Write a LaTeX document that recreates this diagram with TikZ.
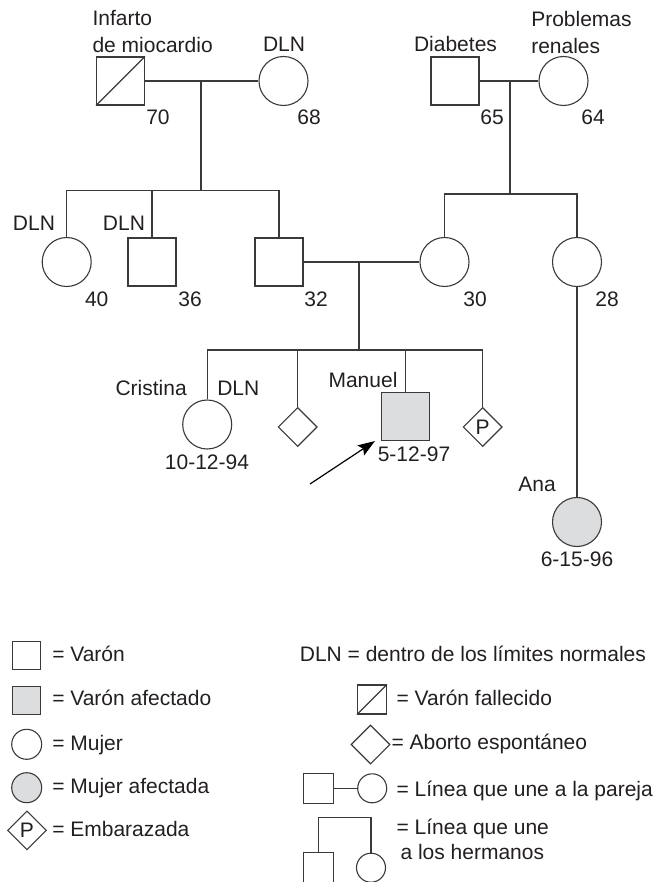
\documentclass[tikz,border=0pt]{standalone}
\usepackage{fontspec}
\setmainfont{Liberation Sans}
\usetikzlibrary{arrows.meta, positioning, shapes.geometric}
\definecolor{cline}{HTML}{3A3A3A}
\definecolor{cfill}{HTML}{DCDDDF}
\definecolor{ctext}{HTML}{231F20}
\tikzset{
  every picture/.style={font=\fontsize{21}{27}\selectfont, line width=1.1pt, color=cline, text=ctext},
  male/.style={draw, minimum size=#1, inner sep=0pt},
  male/.default=48pt,
  female/.style={draw, circle, minimum size=#1, inner sep=0pt},
  female/.default=49pt,
  lost/.style={draw, diamond, minimum size=#1, inner sep=0pt},
  lost/.default=39pt,
  affected/.style={fill=cfill},
  lbl/.style={inner sep=0pt, anchor=base},
  key/.style={inner sep=0pt, anchor=base west},
  arrow/.style={-{Stealth[length=17pt, width=12pt, inset=3pt]}, draw=black, line width=1.2pt},
}

\begin{document}
\begin{tikzpicture}[x=1pt, y=-1pt]
  \useasboundingbox (0,0) rectangle (671,882);
  % first generation
  \node[male] (gpaA) at (120.5,81) {};
  \draw (gpaA.south west) -- (gpaA.north east);
  \node[female] (gmaA) at (283.5,81) {};
  \node[male] (gpaB) at (455,81) {};
  \node[female] (gmaB) at (563.5,81) {};
  % second generation
  \node[female] (auntA) at (66.7,262) {};
  \node[male] (uncle) at (152,262) {};
  \node[male] (dad) at (279,262) {};
  \node[female] (mom) at (444.5,262) {};
  \node[female] (auntB) at (577,262) {};
  % third generation
  \node[female] (cristina) at (207.2,424.5) {};
  \node[lost] (abort) at (297.7,427) {};
  \node[male, affected] (manuel) at (405.5,416.5) {};
  \node[lost] (preg) at (482.7,427) {P};
  \node[female, affected] (ana) at (577,522) {};

  % couples and sibships
  \coordinate (dropA) at (201,81);
  \coordinate (barA) at (201,190.5);
  \draw (gpaA) -- (gmaA);
  \draw (dropA) -- (barA);
  \draw (auntA.north) |- (barA) -| (dad.north);
  \draw (uncle.north) -- (uncle.north |- barA);
  \coordinate (dropB) at (510,81);
  \coordinate (barB) at (510,194);
  \draw (gpaB) -- (gmaB);
  \draw (dropB) -- (barB);
  \draw (mom.north) |- (barB) -| (auntB.north);
  \coordinate (dropC) at (359,262);
  \coordinate (barC) at (359,350);
  \draw (dad) -- (mom);
  \draw (dropC) -- (barC);
  \draw (cristina.north) |- (barC) -| (preg.north);
  \draw (abort.north) -- (abort.north |- barC);
  \draw (manuel.north) -- (manuel.north |- barC);
  \draw (auntB) -- (ana);
  \coordinate (tail) at (310,484);
  \draw[arrow] (tail) -- ([xshift=-6pt]manuel.south west);

  % labels
  \node[inner sep=0pt, anchor=north west, align=left] (infarto) at (92,10) {Infarto\\de miocardio};
  \node[lbl] (dlnA) at (284,52) {DLN};
  \node[lbl] (diabetes) at (455.5,52) {Diabetes};
  \node[inner sep=0pt, anchor=north west, align=left] (renales) at (530.7,10.7) {Problemas\\renales};
  \node[lbl] (ageGpaA) at (158,125) {70};
  \node[lbl] (ageGmaA) at (309,125) {68};
  \node[lbl] (ageGpaB) at (492,125) {65};
  \node[lbl] (ageGmaB) at (593,125) {64};
  \node[lbl] (dlnB) at (34,231) {DLN};
  \node[lbl] (dlnC) at (124,231) {DLN};
  \node[lbl] (ageAuntA) at (96.7,306.7) {40};
  \node[lbl] (ageUncle) at (190,306.7) {36};
  \node[lbl] (ageDad) at (316,306.7) {32};
  \node[lbl] (ageMom) at (475,306.7) {30};
  \node[lbl] (ageAuntB) at (607,306.7) {28};
  \node[lbl, anchor=base east] (nCristina) at (187.3,395) {Cristina};
  \node[lbl, anchor=base west] (dlnD) at (216.7,395) {DLN};
  \node[lbl] (bCristina) at (207,469) {10-12-94};
  \node[lbl, anchor=base east] (nManuel) at (398,387) {Manuel};
  \node[lbl] (bManuel) at (414,461.7) {5-12-97};
  \node[lbl] (nAna) at (537,491.7) {Ana};
  \node[lbl] (bAna) at (577,566.7) {6-15-96};

  % legend
  \node[male=28pt] (kMale) at (26.7,655.5) {};
  \node[key] (tMale) at (51.7,661.7) {= Varón};
  \node[male=28pt, affected] (kMaleAff) at (26.7,700.3) {};
  \node[key] (tMaleAff) at (51.7,705.5) {= Varón afectado};
  \node[female=30pt] (kFem) at (26.7,744.3) {};
  \node[key] (tFem) at (51.7,750) {= Mujer};
  \node[female=30pt, affected] (kFemAff) at (26.7,787.7) {};
  \node[key] (tFemAff) at (51.7,793) {= Mujer afectada};
  \node[lost] (kPreg) at (27,830.3) {P};
  \node[key] (tPreg) at (51.7,836) {= Embarazada};
  \node[key] (tDln) at (299.3,661.7) {DLN = dentro de los límites normales};
  \node[male=29pt] (kDead) at (372,699.5) {};
  \draw (kDead.south west) -- (kDead.north east);
  \node[key] (tDead) at (396,705) {= Varón fallecido};
  \node[lost] (kLost) at (370.5,744.5) {};
  \node[key] (tLost) at (391,749.3) {= Aborto espontáneo};
  \node[male=30pt] (kCoupM) at (318.3,788.3) {};
  \node[female=29pt] (kCoupF) at (372.2,788.3) {};
  \draw (kCoupM) -- (kCoupF);
  \node[key] (tCoup) at (396,796) {= Línea que une a la pareja};
  \node[male=30pt] (kSibM) at (318.3,867.7) {};
  \node[female=29pt] (kSibF) at (371,867.7) {};
  \coordinate (kBar) at (344.6,817.7);
  \draw (kSibM.north) |- (kBar) -| (kSibF.north);
  \node[inner sep=0pt, anchor=north west, align=left, font=\fontsize{21}{25}\selectfont] (tSib) at (396,818) {= Línea que une\\\hspace*{4pt}a los hermanos};
\end{tikzpicture}
\end{document}
